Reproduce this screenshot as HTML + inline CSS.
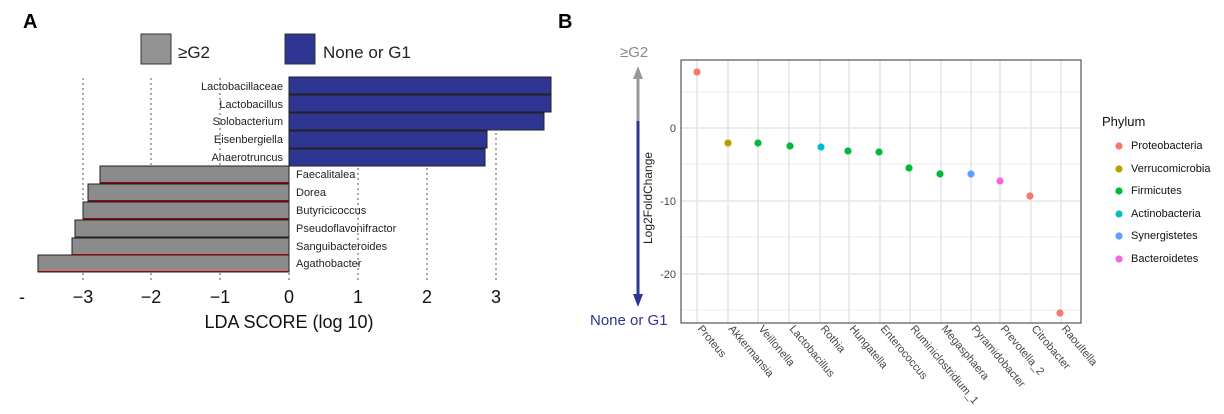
<!DOCTYPE html>
<html><head><style>body{margin:0;background:#fff}svg{display:block}text{font-family:"Liberation Sans",sans-serif}</style></head><body>
<svg width="1224" height="414" viewBox="0 0 1224 414">
<text x="23" y="28" font-size="20" font-weight="bold">A</text>
<text x="558" y="28" font-size="20" font-weight="bold">B</text>
<rect x="141" y="34" width="30" height="30" fill="#939393" stroke="#333"/>
<text x="178" y="58" font-size="17" fill="#222">≥G2</text>
<rect x="285" y="34" width="30" height="30" fill="#2e3592" stroke="#333"/>
<text x="323" y="58" font-size="17" fill="#222">None or G1</text>
<g stroke="#555" stroke-dasharray="2,3">
<line x1="83" y1="78" x2="83" y2="282"/><line x1="151" y1="78" x2="151" y2="282"/><line x1="220" y1="78" x2="220" y2="282"/><line x1="289" y1="78" x2="289" y2="282"/><line x1="358" y1="78" x2="358" y2="282"/><line x1="427" y1="78" x2="427" y2="282"/><line x1="496" y1="78" x2="496" y2="282"/>
</g>
<g fill="#2e3592" stroke="#222">
<rect x="289" y="77" width="262" height="17"/><rect x="289" y="95" width="262" height="17"/><rect x="289" y="113" width="255" height="17"/><rect x="289" y="131" width="198" height="17"/><rect x="289" y="149" width="196" height="17"/>
</g>
<g fill="#8b8b8b" stroke="#222">
<rect x="100" y="166" width="189" height="17"/><rect x="88" y="184" width="201" height="17"/><rect x="83" y="202" width="206" height="17"/><rect x="75" y="220" width="214" height="17"/><rect x="72" y="238" width="217" height="17"/><rect x="38" y="255" width="251" height="17"/>
</g>
<g fill="#a00"><rect x="100" y="182" width="189" height="1"/><rect x="88" y="200" width="201" height="1"/><rect x="83" y="218" width="206" height="1"/><rect x="72" y="254" width="217" height="1"/><rect x="38" y="271" width="251" height="1"/></g>
<g font-size="11" fill="#222" text-anchor="end">
<text x="283" y="90">Lactobacillaceae</text><text x="283" y="108">Lactobacillus</text><text x="283" y="125">Solobacterium</text><text x="283" y="143">Eisenbergiella</text><text x="283" y="161">Anaerotruncus</text>
</g>
<g font-size="11" fill="#222">
<text x="296" y="178">Faecalitalea</text><text x="296" y="196">Dorea</text><text x="296" y="214">Butyricicoccus</text><text x="296" y="232">Pseudoflavonifractor</text><text x="296" y="250">Sanguibacteroides</text><text x="296" y="267">Agathobacter</text>
</g>
<g font-size="18" fill="#111" text-anchor="middle">
<text x="22" y="303">-</text><text x="83" y="303">−3</text><text x="151" y="303">−2</text><text x="220" y="303">−1</text><text x="289" y="303">0</text><text x="358" y="303">1</text><text x="427" y="303">2</text><text x="496" y="303">3</text>
<text x="289" y="328">LDA SCORE (log 10)</text>
</g>
<!-- panel B -->
<g stroke="#ebebeb" stroke-width="1">
<line x1="681" x2="1081" y1="92" y2="92"/><line x1="681" x2="1081" y1="164" y2="164"/><line x1="681" x2="1081" y1="237" y2="237"/><line x1="681" x2="1081" y1="310" y2="310"/>
</g>
<g stroke="#e6e6e6" stroke-width="1.6">
<line x1="681" x2="1081" y1="128" y2="128"/><line x1="681" x2="1081" y1="201" y2="201"/><line x1="681" x2="1081" y1="274" y2="274"/>
<line x1="697" x2="697" y1="60" y2="323"/><line x1="728" x2="728" y1="60" y2="323"/><line x1="758" x2="758" y1="60" y2="323"/><line x1="789" x2="789" y1="60" y2="323"/><line x1="820" x2="820" y1="60" y2="323"/><line x1="849" x2="849" y1="60" y2="323"/><line x1="880" x2="880" y1="60" y2="323"/><line x1="910" x2="910" y1="60" y2="323"/><line x1="941" x2="941" y1="60" y2="323"/><line x1="971" x2="971" y1="60" y2="323"/><line x1="1000" x2="1000" y1="60" y2="323"/><line x1="1031" x2="1031" y1="60" y2="323"/><line x1="1061" x2="1061" y1="60" y2="323"/>
</g>
<rect x="681" y="60" width="400" height="263" fill="none" stroke="#333" stroke-width="1"/>
<g font-size="11" fill="#444" text-anchor="end"><text x="676" y="132">0</text><text x="676" y="205">-10</text><text x="676" y="278">-20</text></g>
<g>
<circle cx="697" cy="72" r="3.6" fill="#f8766d"/><circle cx="728" cy="143" r="3.6" fill="#b79f00"/><circle cx="758" cy="143" r="3.6" fill="#00ba38"/><circle cx="790" cy="146" r="3.6" fill="#00ba38"/><circle cx="821" cy="147" r="3.6" fill="#00bfc4"/><circle cx="848" cy="151" r="3.6" fill="#00ba38"/><circle cx="879" cy="152" r="3.6" fill="#00ba38"/><circle cx="909" cy="168" r="3.6" fill="#00ba38"/><circle cx="940" cy="174" r="3.6" fill="#00ba38"/><circle cx="971" cy="174" r="3.6" fill="#619cff"/><circle cx="1000" cy="181" r="3.6" fill="#f564e3"/><circle cx="1030" cy="196" r="3.6" fill="#f8766d"/><circle cx="1060" cy="313" r="3.6" fill="#f8766d"/>
</g>
<g font-size="11" fill="#444">
<text transform="translate(697,329) rotate(50)">Proteus</text>
<text transform="translate(728,329) rotate(50)">Akkermansia</text>
<text transform="translate(758,329) rotate(50)">Veillonella</text>
<text transform="translate(789,329) rotate(50)">Lactobacillus</text>
<text transform="translate(820,329) rotate(50)">Rothia</text>
<text transform="translate(849,329) rotate(50)">Hungatella</text>
<text transform="translate(880,329) rotate(50)">Enterococcus</text>
<text transform="translate(910,329) rotate(50)">Ruminiclostridium_1</text>
<text transform="translate(941,329) rotate(50)">Megasphaera</text>
<text transform="translate(971,329) rotate(50)">Pyramidobacter</text>
<text transform="translate(1000,329) rotate(50)">Prevotella_2</text>
<text transform="translate(1031,329) rotate(50)">Citrobacter</text>
<text transform="translate(1061,329) rotate(50)">Raoultella</text>
</g>
<line x1="638" y1="78" x2="638" y2="121" stroke="#999" stroke-width="3"/>
<polygon points="638,66 633,79 643,79" fill="#999"/>
<line x1="638" y1="121" x2="638" y2="296" stroke="#2e3592" stroke-width="3"/>
<polygon points="638,307 633,294 643,294" fill="#2e3592"/>
<text x="620" y="57" font-size="15" fill="#888">≥G2</text>
<text x="590" y="325" font-size="15" fill="#2e3592">None or G1</text>
<text transform="translate(652,198) rotate(-90)" font-size="12" fill="#222" text-anchor="middle">Log2FoldChange</text>
<text x="1102" y="126" font-size="13" fill="#111">Phylum</text>
<g font-size="11" fill="#111">
<circle cx="1119" cy="146" r="3.6" fill="#f8766d"/><text x="1131" y="149">Proteobacteria</text>
<circle cx="1119" cy="169" r="3.6" fill="#b79f00"/><text x="1131" y="172">Verrucomicrobia</text>
<circle cx="1119" cy="191" r="3.6" fill="#00ba38"/><text x="1131" y="194">Firmicutes</text>
<circle cx="1119" cy="214" r="3.6" fill="#00bfc4"/><text x="1131" y="217">Actinobacteria</text>
<circle cx="1119" cy="236" r="3.6" fill="#619cff"/><text x="1131" y="239">Synergistetes</text>
<circle cx="1119" cy="259" r="3.6" fill="#f564e3"/><text x="1131" y="262">Bacteroidetes</text>
</g>
</svg>
</body></html>
